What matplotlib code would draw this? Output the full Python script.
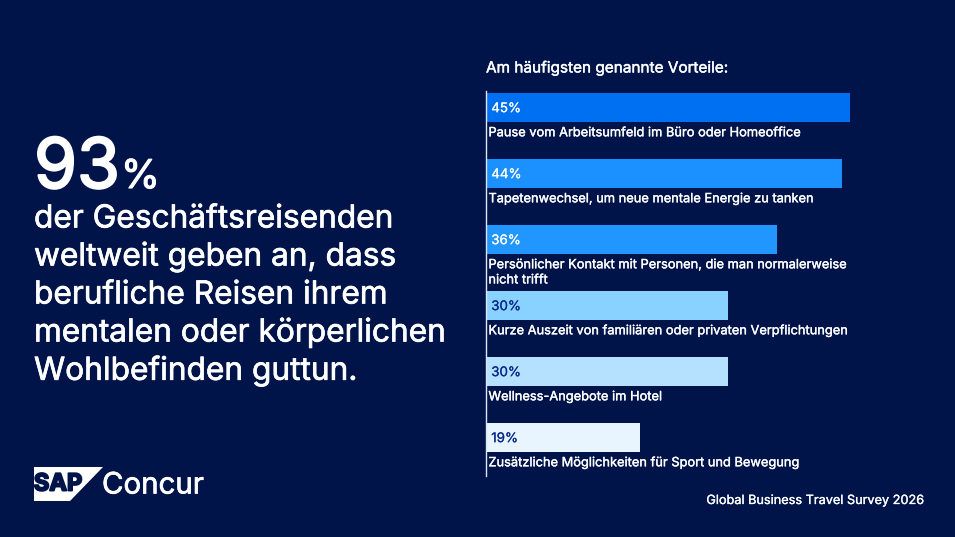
import matplotlib
matplotlib.use("Agg")
import matplotlib.pyplot as plt
from matplotlib.patches import Polygon
import matplotlib.patheffects as pe

# data
categories = ["Pause vom Arbeitsumfeld im Büro oder Homeoffice",
              "Tapetenwechsel, um neue mentale Energie zu tanken",
              "Persönlicher Kontakt mit Personen, die man normalerweise\nnicht trifft",
              "Kurze Auszeit von familiären oder privaten Verpflichtungen",
              "Wellness-Angebote im Hotel",
              "Zusätzliche Möglichkeiten für Sport und Bewegung"]
values = [45, 44, 36, 30, 30, 19]
bar_colors = ["#0070F2", "#1B90FF", "#2196FF", "#89D1FF", "#B5E1FF", "#E8F5FF"]
text_colors = ["white", "white", "white", "#0A2A8C", "#0A2A8C", "#0A2A8C"]
headline = ["der Geschäftsreisenden", "weltweit geben an, dass", "berufliche Reisen ihrem",
            "mentalen oder körperlichen", "Wohlbefinden guttun."]

navy = "#00144A"
W, H = 955, 537
plt.rcParams['font.family'] = ['Inter', 'DejaVu Sans']

def heavy(width, color="white"):
    # thin outline, the installed font only draws one weight
    return [pe.withStroke(linewidth=width, foreground=color)]

fig = plt.figure(figsize=(W / 100, H / 100), dpi=100, facecolor=navy)

# full figure layer in pixels for the loose text
bg = fig.add_axes([0, 0, 1, 1])
bg.set_xlim(0, W)
bg.set_ylim(H, 0)
bg.axis("off")

bg.text(34, 188, "93", color="white", fontsize=50, va="baseline", path_effects=heavy(1.6))
bg.text(121, 188, "%", color="white", fontsize=28.5, va="baseline", path_effects=heavy(0.8))
for i, line in enumerate(headline):
    bg.text(34, 219 + i * 38, line, color="white", fontsize=22.8, va="center", path_effects=heavy(0.5))

bg.text(486, 68, "Am häufigsten genannte Vorteile:", color="white", fontsize=11.05,
        va="center", path_effects=heavy(0.3))
bg.text(924, 501, "Global Business Travel Survey 2026", color="white", fontsize=9.15,
        va="center", ha="right", path_effects=heavy(0.2))

# logo
bg.add_patch(Polygon([(34, 467), (103, 467), (70, 501), (34, 501)], closed=True, fc="white", ec="none"))
bg.text(58, 484.5, "SAP", color=navy, fontsize=17, va="center", ha="center",
        fontweight="bold", path_effects=heavy(1.4, navy))
bg.text(102, 486, "Concur", color="white", fontsize=21.2, va="center", path_effects=heavy(0.5))

# bars, 8.08 px per percentage point, 66 px per row
ax = fig.add_axes([486 / W, 1 - 476 / H, 380 / W, 385 / H])
ax.patch.set_alpha(0)
ax.set_xlim(0, 380 / 8.08)
ax.set_ylim((476 - 107.5) / 66, (91 - 107.5) / 66)
ypos = list(range(len(values)))
ax.barh(ypos, values, height=29 / 66, color=bar_colors, linewidth=0)
for y, v, cat, tc in zip(ypos, values, categories, text_colors):
    ax.text(0.65, y + 0.025, f"{v}%", color=tc, fontsize=9.6, va="center", path_effects=heavy(0.15, tc))
    ax.text(0.3, y + 0.3, cat, color="white", fontsize=9.25, va="top", linespacing=1.35,
            path_effects=heavy(0.25))
for s in ["top", "right", "bottom"]:
    ax.spines[s].set_visible(False)
ax.spines["left"].set_color("#DDE6F5")
ax.spines["left"].set_linewidth(1)
ax.set_xticks([])
ax.set_yticks([])

fig.savefig("out.png", dpi=100, facecolor=navy)
